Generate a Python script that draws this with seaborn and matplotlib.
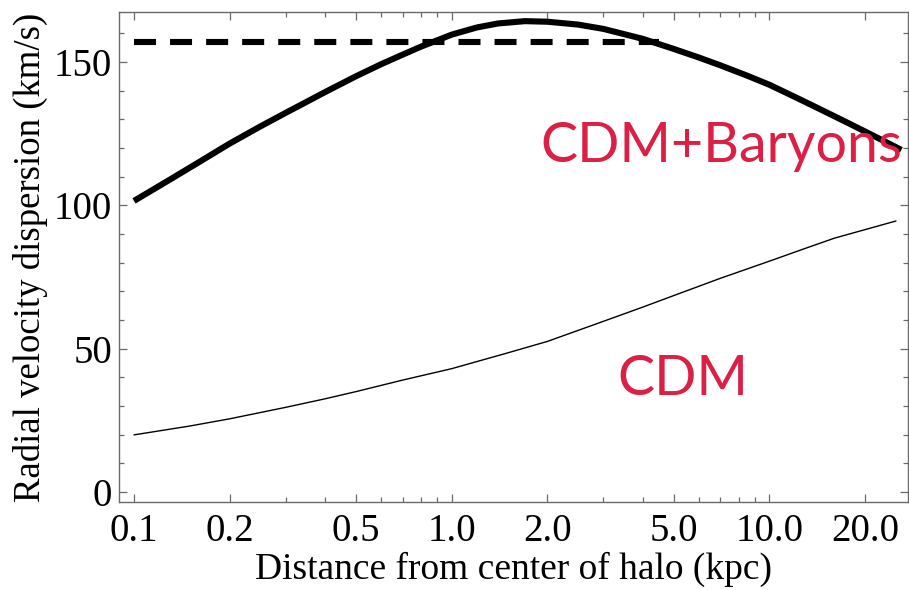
import numpy as np
import pandas as pd
import matplotlib
matplotlib.use("Agg")
import matplotlib.pyplot as plt
from matplotlib.ticker import FixedLocator, FixedFormatter, NullFormatter
import seaborn as sns

# Radial velocity dispersion profiles (km/s) versus radius (kpc)
r_baryons = [0.1, 0.13, 0.16, 0.2, 0.25, 0.3, 0.4, 0.5, 0.6, 0.7, 0.8, 1.0, 1.2, 1.4,
             1.7, 2.0, 2.5, 3.0, 4.0, 5.0, 6.0, 7.0, 8.5, 10.0, 12.0, 14.0, 17.0, 20.0,
             23.0, 26.0]
sigma_baryons = [101.5, 109.0, 115.0, 121.5, 127.5, 132.2, 139.5, 145.0, 149.2, 152.5,
                 155.3, 159.5, 162.0, 163.4, 164.2, 164.0, 163.0, 161.5, 158.0, 154.5,
                 151.5, 148.8, 145.2, 142.0, 137.8, 134.2, 129.6, 125.7, 122.3, 119.3]

r_cdm = [0.1, 0.15, 0.2, 0.3, 0.4, 0.5, 0.7, 1.0, 1.5, 2.0, 3.0, 4.0, 5.0, 7.0, 10.0,
         13.0, 16.0, 20.0, 25.0]
sigma_cdm = [19.9, 23.0, 25.5, 29.5, 32.5, 35.0, 39.0, 43.0, 48.5, 52.5, 59.5, 64.5,
             68.5, 74.5, 80.5, 85.0, 88.5, 91.5, 94.5]

r_obs = [0.1, 4.5]
sigma_obs = [157.0, 157.0]

x_ticks = [0.1, 0.2, 0.5, 1.0, 2.0, 5.0, 10.0, 20.0]
x_tick_labels = ["0.1", "0.2", "0.5", "1.0", "2.0", "5.0", "10.0", "20.0"]
y_ticks = [0, 50, 100, 150]

sns.set_style("ticks")
plt.rcParams["font.family"] = ["Liberation Serif", "DejaVu Serif"]

fig = plt.figure(figsize=(9.09, 5.90), dpi=100)
ax = fig.add_axes([0.1309, 0.1492, 0.8681, 0.8305])

df_b = pd.DataFrame({"r": r_baryons, "sigma": sigma_baryons})
df_c = pd.DataFrame({"r": r_cdm, "sigma": sigma_cdm})
df_o = pd.DataFrame({"r": r_obs, "sigma": sigma_obs})

sns.lineplot(data=df_o, x="r", y="sigma", ax=ax, color="black", linewidth=4.4,
             linestyle=(0, (3.6, 2.3)), dash_capstyle="butt", sort=False)
sns.lineplot(data=df_b, x="r", y="sigma", ax=ax, color="black", linewidth=4.4,
             solid_capstyle="butt", solid_joinstyle="round", sort=False)
sns.lineplot(data=df_c, x="r", y="sigma", ax=ax, color="black", linewidth=1.0, sort=False)

ax.set_xscale("log")
ax.set_xlim(0.0897, 27.3)
ax.set_ylim(-3.5, 167.4)

ax.xaxis.set_major_locator(FixedLocator(x_ticks))
ax.xaxis.set_major_formatter(FixedFormatter(x_tick_labels))
minor_x = [v * m for v in (0.1, 1.0, 10.0) for m in range(2, 10)]
ax.xaxis.set_minor_locator(FixedLocator(minor_x))
ax.xaxis.set_minor_formatter(NullFormatter())
ax.yaxis.set_major_locator(FixedLocator(y_ticks))
ax.yaxis.set_minor_locator(FixedLocator(list(range(0, 170, 10))))

frame = "#6a6a6a"
for s in ax.spines.values():
    s.set_color(frame)
    s.set_linewidth(1.0)
ax.tick_params(which="both", direction="in", top=True, right=True, color=frame,
               width=0.9, labelsize=28, labelcolor="black")
ax.tick_params(axis="x", pad=8)
ax.tick_params(axis="y", pad=5)
ax.tick_params(which="major", length=6)
ax.tick_params(which="minor", length=3.5)

ax.set_xlabel("Distance from center of halo (kpc)", fontsize=27, color="black", labelpad=1)
ax.set_ylabel("Radial velocity dispersion (km/s)", fontsize=26.5, color="black", labelpad=4)

crimson = "#DC1F45"
ax.text(1.90, 115.0, "CDM+Baryons", color=crimson, fontsize=40, family="Lato",
        ha="left", va="baseline")
ax.text(3.31, 33.8, "CDM", color=crimson, fontsize=40, family="Lato",
        ha="left", va="baseline")

fig.savefig("out.png", dpi=100)
